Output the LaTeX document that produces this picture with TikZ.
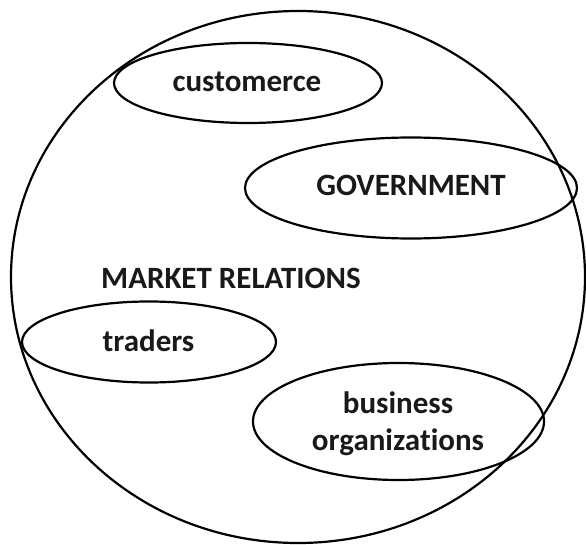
\documentclass[tikz,border=0pt]{standalone}
\usepackage{fontspec}
\setmainfont{Carlito}[Ligatures=NoCommon]
\usetikzlibrary{shapes.geometric}
\begin{document}
\begin{tikzpicture}[x=1pt,y=-1pt,
  oval/.style={draw, ellipse, line width=2.2pt, inner sep=0pt},
  lbl/.style={anchor=base, inner sep=0pt, font=\fontsize{31}{37}\selectfont\bfseries, text=black!90},
]
\useasboundingbox (0,0) rectangle (586,545);
% outer set
\node[oval, minimum width=574pt, minimum height=532pt] (market) at (298,277) {};
% inner sets
\node[oval, minimum width=268pt, minimum height=80pt]  (cust)  at (248,83)  {};
\node[oval, minimum width=332pt, minimum height=101pt] (gov)   at (411,188) {};
\node[oval, minimum width=254pt, minimum height=81pt]  (trad)  at (149,342) {};
\node[oval, minimum width=291pt, minimum height=117pt] (biz)   at (398.5,421.5) {};
% labels
\node[lbl] (custT) at (247,92) {customerce};
\node[lbl] (govT)  at (411,196) {GOVERNMENT};
\node[lbl, anchor=base west] (mktT) at (101,288) {MARKET RELATIONS};
\node[lbl] (tradT) at (148.5,351) {traders};
\node[lbl] (bizT1) at (398,413) {business};
\node[lbl] (bizT2) at (398,450) {organizations};
\end{tikzpicture}
\end{document}
